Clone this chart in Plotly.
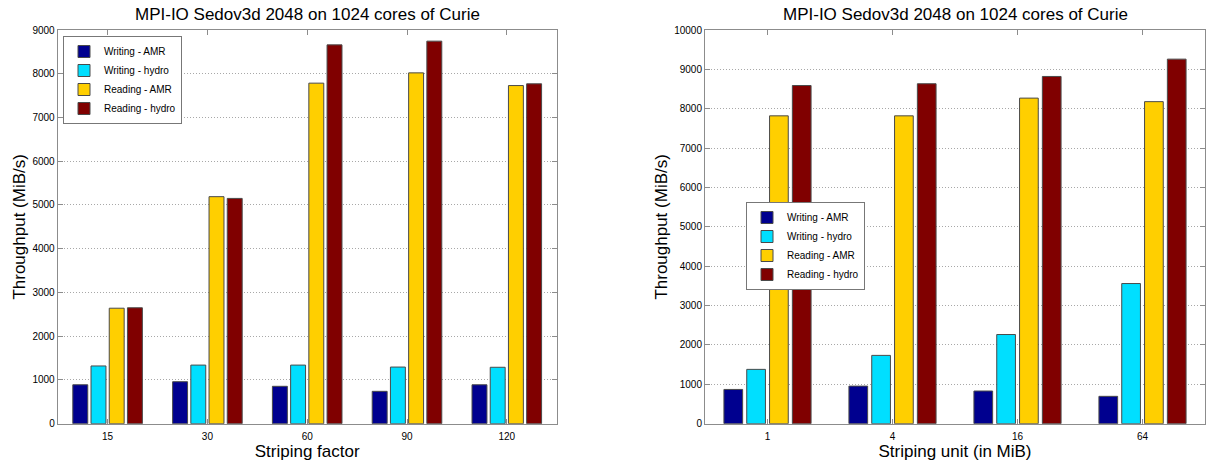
import plotly.graph_objects as go

# ---------------- data ----------------
series_names = ["Writing - AMR", "Writing - hydro", "Reading - AMR", "Reading - hydro"]
series_colors = ["#00008f", "#00dfff", "#ffcf00", "#800000"]

factor_labels = ["15", "30", "60", "90", "120"]
factor_write_amr = [890, 960, 855, 740, 890]
factor_write_hydro = [1320, 1340, 1340, 1295, 1290]
factor_read_amr = [2640, 5190, 7785, 8020, 7730]
factor_read_hydro = [2650, 5150, 8660, 8745, 7770]

unit_labels = ["1", "4", "16", "64"]
unit_write_amr = [870, 955, 830, 695]
unit_write_hydro = [1380, 1735, 2265, 3560]
unit_read_amr = [7820, 7820, 8270, 8180]
unit_read_hydro = [8590, 8635, 8820, 9260]

title_text = "MPI-IO Sedov3d 2048 on 1024 cores of Curie"
ytitle = "Throughput (MiB/s)"
left_xtitle = "Striping factor"
right_xtitle = "Striping unit (in MiB)"

W, H = 1213, 461
FONT = "Liberation Sans, Arial, Helvetica, sans-serif"

fig = go.Figure()

left_series = [factor_write_amr, factor_write_hydro, factor_read_amr, factor_read_hydro]
right_series = [unit_write_amr, unit_write_hydro, unit_read_amr, unit_read_hydro]

for name, color, vals in zip(series_names, series_colors, left_series):
    fig.add_trace(go.Bar(
        x=factor_labels, y=vals, name=name, xaxis="x", yaxis="y",
        marker=dict(color=color, line=dict(color="#4a4a4a", width=1)),
        legend="legend", offsetgroup=name,
    ))
for name, color, vals in zip(series_names, series_colors, right_series):
    fig.add_trace(go.Bar(
        x=unit_labels, y=vals, name=name, xaxis="x2", yaxis="y2",
        marker=dict(color=color, line=dict(color="#4a4a4a", width=1)),
        legend="legend2", offsetgroup=name,
    ))

# plot area geometry (pixels)
Lx0, Lx1 = 57.7, 556.7
Rx0, Rx1 = 705.0, 1205.0
Ytop, Ybot = 30.0, 423.7

def xd(a, b):
    return [a / W, b / W]

ydom = [(H - Ybot) / H, (H - Ytop) / H]

axis_common = dict(
    showline=True, linecolor="#8c8c8c", linewidth=1, mirror="ticks",
    ticks="inside", ticklen=5, tickcolor="#8c8c8c",
    tickfont=dict(family=FONT, size=10, color="#000"),
    zeroline=False, automargin=False,
)

grid = dict(showgrid=True, gridcolor="#a8a8a8", griddash="1px,2px", gridwidth=1)

fig.update_layout(
    width=W, height=H,
    margin=dict(l=0, r=0, t=0, b=0, autoexpand=False),
    paper_bgcolor="white", plot_bgcolor="white",
    font=dict(family=FONT, color="#000"),
    barmode="group", bargap=0.27, bargroupgap=0.18,
    xaxis=dict(domain=xd(Lx0, Lx1), anchor="y", type="category",
               range=[-0.5, 4.5], showgrid=False, ticklabelstandoff=3,
               title=dict(text=left_xtitle, font=dict(size=17), standoff=4),
               **axis_common),
    yaxis=dict(domain=ydom, anchor="x", range=[0, 9000], dtick=1000,
               tickformat="d",
               title=dict(text=ytitle, font=dict(size=17), standoff=2),
               **grid, **axis_common),
    xaxis2=dict(domain=xd(Rx0, Rx1), anchor="y2", type="category",
                range=[-0.5, 3.5], showgrid=False, ticklabelstandoff=3,
                title=dict(text=right_xtitle, font=dict(size=17), standoff=4),
                **axis_common),
    yaxis2=dict(domain=ydom, anchor="x2", range=[0, 10000], dtick=1000,
                tickformat="d",
                title=dict(text=ytitle, font=dict(size=17), standoff=2),
                **grid, **axis_common),
    legend=dict(x=63 / W, y=1 - 36 / H, xanchor="left", yanchor="top",
                bgcolor="white", bordercolor="#777", borderwidth=1,
                font=dict(family=FONT, size=10), tracegroupgap=0,
                itemwidth=30),
    legend2=dict(x=746 / W, y=1 - 202 / H, xanchor="left", yanchor="top",
                 bgcolor="white", bordercolor="#777", borderwidth=1,
                 font=dict(family=FONT, size=10), tracegroupgap=0,
                 itemwidth=30),
    annotations=[
        dict(text=title_text, x=(Lx0 + Lx1) / 2 / W, y=1 - 14 / H,
             xref="paper", yref="paper", showarrow=False,
             font=dict(size=17, family=FONT), xanchor="center", yanchor="middle"),
        dict(text=title_text, x=(Rx0 + Rx1) / 2 / W, y=1 - 14 / H,
             xref="paper", yref="paper", showarrow=False,
             font=dict(size=17, family=FONT), xanchor="center", yanchor="middle"),
    ],
)

fig.write_html("out.html",
               config={"displayModeBar": False},
               post_script="document.body.style.margin='0';document.body.style.overflow='hidden';")
